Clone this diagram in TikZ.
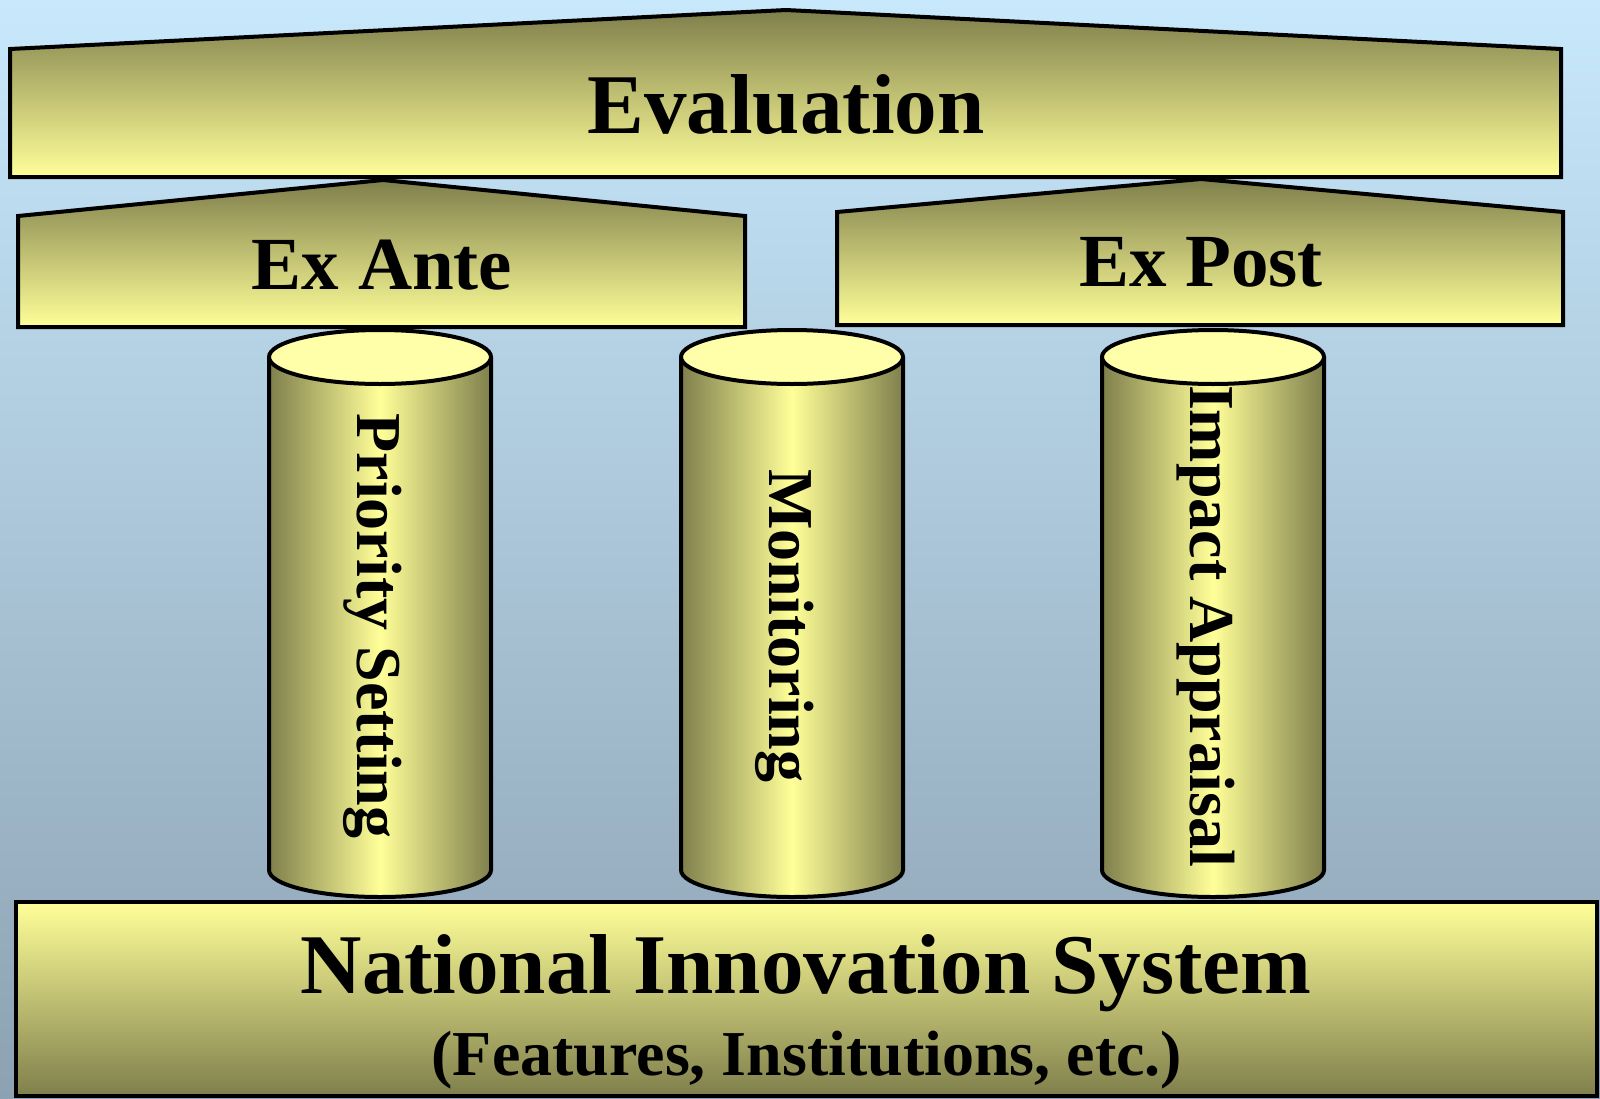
\documentclass[tikz,border=0pt]{standalone}
\usepackage{fontspec}
\setmainfont{Liberation Serif}
\definecolor{olive}{HTML}{7F7F4C}
\definecolor{lightyel}{HTML}{FFFF99}
\definecolor{capyel}{HTML}{FFFFAA}
\definecolor{bgtop}{HTML}{C8E8FC}
\definecolor{bgbot}{HTML}{8CA2B2}
\tikzset{
  outline/.style={draw=black,line width=4pt,line join=miter},
  roofshade/.style={top color=olive,bottom color=lightyel},
  baseshade/.style={top color=lightyel,bottom color=olive},
  cylshade/.style={left color=olive,right color=olive,middle color=lightyel},
  bigtxt/.style={inner sep=0pt,anchor=base,font=\fontsize{85}{90}\selectfont\bfseries},
  midtxt/.style={inner sep=0pt,anchor=base,font=\fontsize{75}{80}\selectfont\bfseries},
  smalltxt/.style={inner sep=0pt,anchor=base,font=\fontsize{64}{70}\selectfont\bfseries},
  vtxt/.style={inner sep=0pt,anchor=base,rotate=-90,font=\fontsize{64}{70}\selectfont\bfseries}
}
\begin{document}
\begin{tikzpicture}[x=1pt,y=-1pt]
\path[use as bounding box] (0,0) rectangle (1600,1098);
\shade[top color=bgtop,bottom color=bgbot] (0,0) rectangle (1600,1098);

% Evaluation roof
\shade[roofshade] (10,177) -- (10,49) -- (786,10) -- (1561,49) -- (1561,177) -- cycle;
\draw[outline] (10,177) -- (10,49) -- (786,10) -- (1561,49) -- (1561,177) -- cycle;
\node[bigtxt] (eval) at (786,133) {Evaluation};

% Ex Ante
\shade[roofshade] (18,327) -- (18,216) -- (383,180) -- (745,216) -- (745,327) -- cycle;
\draw[outline] (18,327) -- (18,216) -- (383,180) -- (745,216) -- (745,327) -- cycle;
\node[midtxt] (exante) at (382,289) {Ex Ante};

% Ex Post
\shade[roofshade] (837,325) -- (837,212) -- (1201,179) -- (1563,212) -- (1563,325) -- cycle;
\draw[outline] (837,325) -- (837,212) -- (1201,179) -- (1563,212) -- (1563,325) -- cycle;
\node[midtxt] (expost) at (1201,286) {Ex Post};

% Cylinders
\foreach \cx/\nm/\txt in {380/prio/Priority Setting,792/moni/Monitoring,1213/impa/Impact Appraisal}{
  \shade[cylshade] (\cx-111,357) -- (\cx-111,870) arc[start angle=180,end angle=0,x radius=111,y radius=27] -- (\cx+111,357) -- cycle;
  \draw[outline] (\cx-111,357) -- (\cx-111,870) arc[start angle=180,end angle=0,x radius=111,y radius=27] -- (\cx+111,357);
  \node[vtxt] (\nm) at (\cx-23,626) {\txt};
  \draw[outline,fill=capyel] (\cx,357) ellipse[x radius=111,y radius=27];
}

% National Innovation System
\shade[baseshade] (16,902) rectangle (1597,1096);
\draw[outline] (16,902) rectangle (1597,1096);
\node[bigtxt] (nis) at (806,993) {National Innovation System};
\node[smalltxt] (feat) at (807,1075) {(Features, Institutions, etc.)};
\end{tikzpicture}
\end{document}
